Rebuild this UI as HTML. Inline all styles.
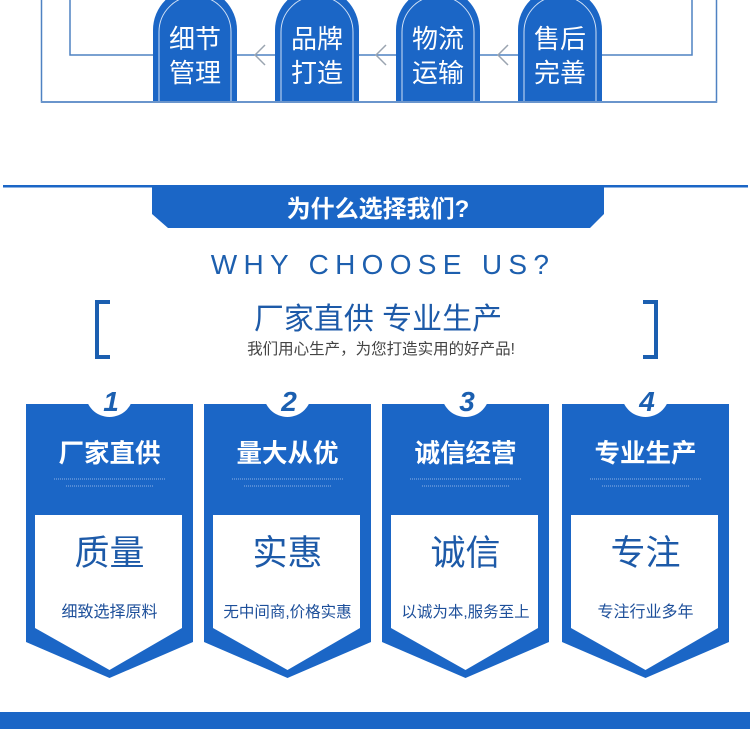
<!DOCTYPE html>
<html><head><meta charset="utf-8"><style>
html,body{margin:0;padding:0;background:#fff;width:750px;height:729px;overflow:hidden}
svg text{font-family:"Liberation Sans","Noto Sans CJK SC",sans-serif}
</style></head><body>
<svg width="750" height="729" viewBox="0 0 750 729" xmlns="http://www.w3.org/2000/svg">
<defs>
<g id="pill">
<path d="M0,102 L0,30 A42,42 0 0 1 84,30 L84,102 Z" fill="#1b66c6"/>
<path d="M6,102 L6,32 A36,36 0 0 1 78,32 L78,102" fill="none" stroke="#cfe0f5" stroke-width="1"/>
</g>
<g id="card">
<path d="M0,404 L167,404 L167,642 L83.5,678 L0,642 Z" fill="#1b66c6"/>
<circle cx="83.5" cy="393" r="24" fill="#fff"/>
<path d="M9,515 L156,515 L156,628 L83.5,670 L9,628 Z" fill="#fff"/>
<line x1="28" y1="479" x2="139" y2="479" stroke="#8fb3e6" stroke-width="1" stroke-dasharray="1 1"/>
<line x1="40" y1="486" x2="127" y2="486" stroke="#8fb3e6" stroke-width="1" stroke-dasharray="1 1"/>
</g>
</defs>
<rect x="41.5" y="-5" width="675" height="107" fill="none" stroke="#4f82c2" stroke-width="1.5"/>
<polyline points="70,-5 70,55 692,55 692,-5" fill="none" stroke="#4f82c2" stroke-width="1.5"/>
<g fill="none" stroke="#9aa4b0" stroke-width="1.5">
<polyline points="265,45 255,55 265,65"/>
<polyline points="386,45 376,55 386,65"/>
<polyline points="508,45 498,55 508,65"/>
</g>
<use href="#pill" x="153" y="0"/>
<use href="#pill" x="275" y="0"/>
<use href="#pill" x="396" y="0"/>
<use href="#pill" x="518" y="0"/>
<g fill="#fff" font-size="26" text-anchor="middle">
<text x="195" y="48">细节</text><text x="195" y="82">管理</text>
<text x="317" y="48">品牌</text><text x="317" y="82">打造</text>
<text x="438" y="48">物流</text><text x="438" y="82">运输</text>
<text x="560" y="48">售后</text><text x="560" y="82">完善</text>
</g>
<rect x="41" y="101" width="676" height="2" fill="#6a95cc"/>
<rect x="3" y="185" width="745" height="2.5" fill="#1b66c6"/>
<path d="M152,186 L604,186 L604,214 L590,228 L168,228 L152,214 Z" fill="#1b66c6"/>
<text x="378" y="217" fill="#fff" font-size="24" font-weight="bold" text-anchor="middle">为什么选择我们?</text>
<text x="383" y="274" fill="#1d5fae" font-size="28" letter-spacing="6.3" text-anchor="middle">WHY CHOOSE US?</text>
<path d="M110,302 L97,302 L97,357 L110,357" fill="none" stroke="#1b5fb0" stroke-width="4"/>
<path d="M643,302 L656,302 L656,357 L643,357" fill="none" stroke="#1b5fb0" stroke-width="4"/>
<text x="378" y="329" fill="#1d5aa8" font-size="30" text-anchor="middle">厂家直供 专业生产</text>
<text x="381" y="354" fill="#444" font-size="15.5" text-anchor="middle">我们用心生产，为您打造实用的好产品!</text>
<g transform="translate(26,0)">
<use href="#card"/>
<text x="85" y="411" fill="#1b5fb0" font-size="28" font-weight="bold" font-style="italic" text-anchor="middle">1</text>
<text x="83.5" y="462" fill="#fff" font-size="25.5" font-weight="bold" text-anchor="middle">厂家直供</text>
<text x="83.5" y="565" fill="#1d5aa8" font-size="35" text-anchor="middle">质量</text>
<text x="83.5" y="617" fill="#1d4f9a" font-size="16" text-anchor="middle">细致选择原料</text>
</g>
<g transform="translate(204,0)">
<use href="#card"/>
<text x="85" y="411" fill="#1b5fb0" font-size="28" font-weight="bold" font-style="italic" text-anchor="middle">2</text>
<text x="83.5" y="462" fill="#fff" font-size="25.5" font-weight="bold" text-anchor="middle">量大从优</text>
<text x="83.5" y="565" fill="#1d5aa8" font-size="35" text-anchor="middle">实惠</text>
<text x="83.5" y="617" fill="#1d4f9a" font-size="15.5" text-anchor="middle">无中间商,价格实惠</text>
</g>
<g transform="translate(382,0)">
<use href="#card"/>
<text x="85" y="411" fill="#1b5fb0" font-size="28" font-weight="bold" font-style="italic" text-anchor="middle">3</text>
<text x="83.5" y="462" fill="#fff" font-size="25.5" font-weight="bold" text-anchor="middle">诚信经营</text>
<text x="83.5" y="565" fill="#1d5aa8" font-size="35" text-anchor="middle">诚信</text>
<text x="83.5" y="617" fill="#1d4f9a" font-size="15.5" text-anchor="middle">以诚为本,服务至上</text>
</g>
<g transform="translate(562,0)">
<use href="#card"/>
<text x="85" y="411" fill="#1b5fb0" font-size="28" font-weight="bold" font-style="italic" text-anchor="middle">4</text>
<text x="83.5" y="462" fill="#fff" font-size="25.5" font-weight="bold" text-anchor="middle">专业生产</text>
<text x="83.5" y="565" fill="#1d5aa8" font-size="35" text-anchor="middle">专注</text>
<text x="83.5" y="617" fill="#1d4f9a" font-size="16" text-anchor="middle">专注行业多年</text>
</g>
<rect x="0" y="712" width="750" height="17" fill="#1b66c6"/>
</svg>
</body></html>
